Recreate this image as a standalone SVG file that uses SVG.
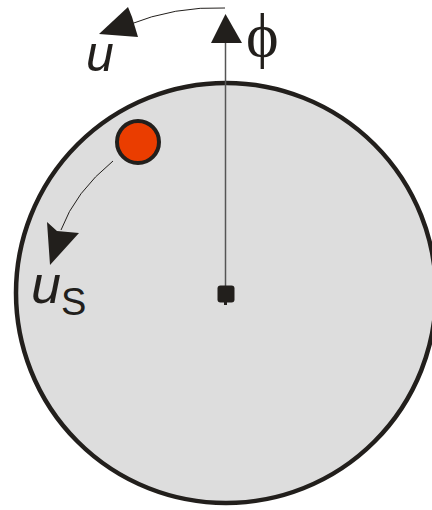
<svg xmlns="http://www.w3.org/2000/svg" width="432" height="510" viewBox="0 0 432 510">
<style>
.ink{fill:#221f1c}
.thin{fill:none;stroke:#221f1c;stroke-width:1}
.lbl{font-family:"Liberation Sans",Arial,sans-serif;fill:#221f1c}
</style>
<rect width="432" height="510" fill="#fff"/>
<g id="disk">
<circle cx="226" cy="293" r="210" fill="#dddddd" stroke="#221f1c" stroke-width="4.5"/>
</g>
<g id="connectors">
<line x1="225.5" y1="294" x2="225.5" y2="40" stroke="#555" stroke-width="1.5"/>
<polygon class="ink" points="225.5,14 211,43 242,43"/>
<path class="thin" d="M225,8 Q175,6 128,25"/>
<polygon class="ink" points="99,34 128,7 132,17 138,37"/>
<path class="thin" d="M113,161 Q75,192 61,230"/>
<polygon class="ink" points="50,265 47,222 57,231 79,233"/>
</g>
<g id="center">
<rect x="217.5" y="285.5" width="17" height="17" rx="3" class="ink"/>
<rect x="224" y="300" width="3" height="5" class="ink"/>
</g>
<g id="particle">
<circle cx="138" cy="142" r="21" fill="#ea3d00" stroke="#221f1c" stroke-width="4"/>
</g>
<g id="labels">
<text x="246" y="56" font-family="'Liberation Serif','Times New Roman',serif" font-size="62" fill="#221f1c">ϕ</text>
<text class="lbl" x="86" y="71" font-size="50" font-style="italic">u</text>
<text class="lbl" x="31" y="303" font-size="54" font-style="italic">u<tspan font-style="normal" font-size="38" dy="12">S</tspan></text>
</g>
</svg>
